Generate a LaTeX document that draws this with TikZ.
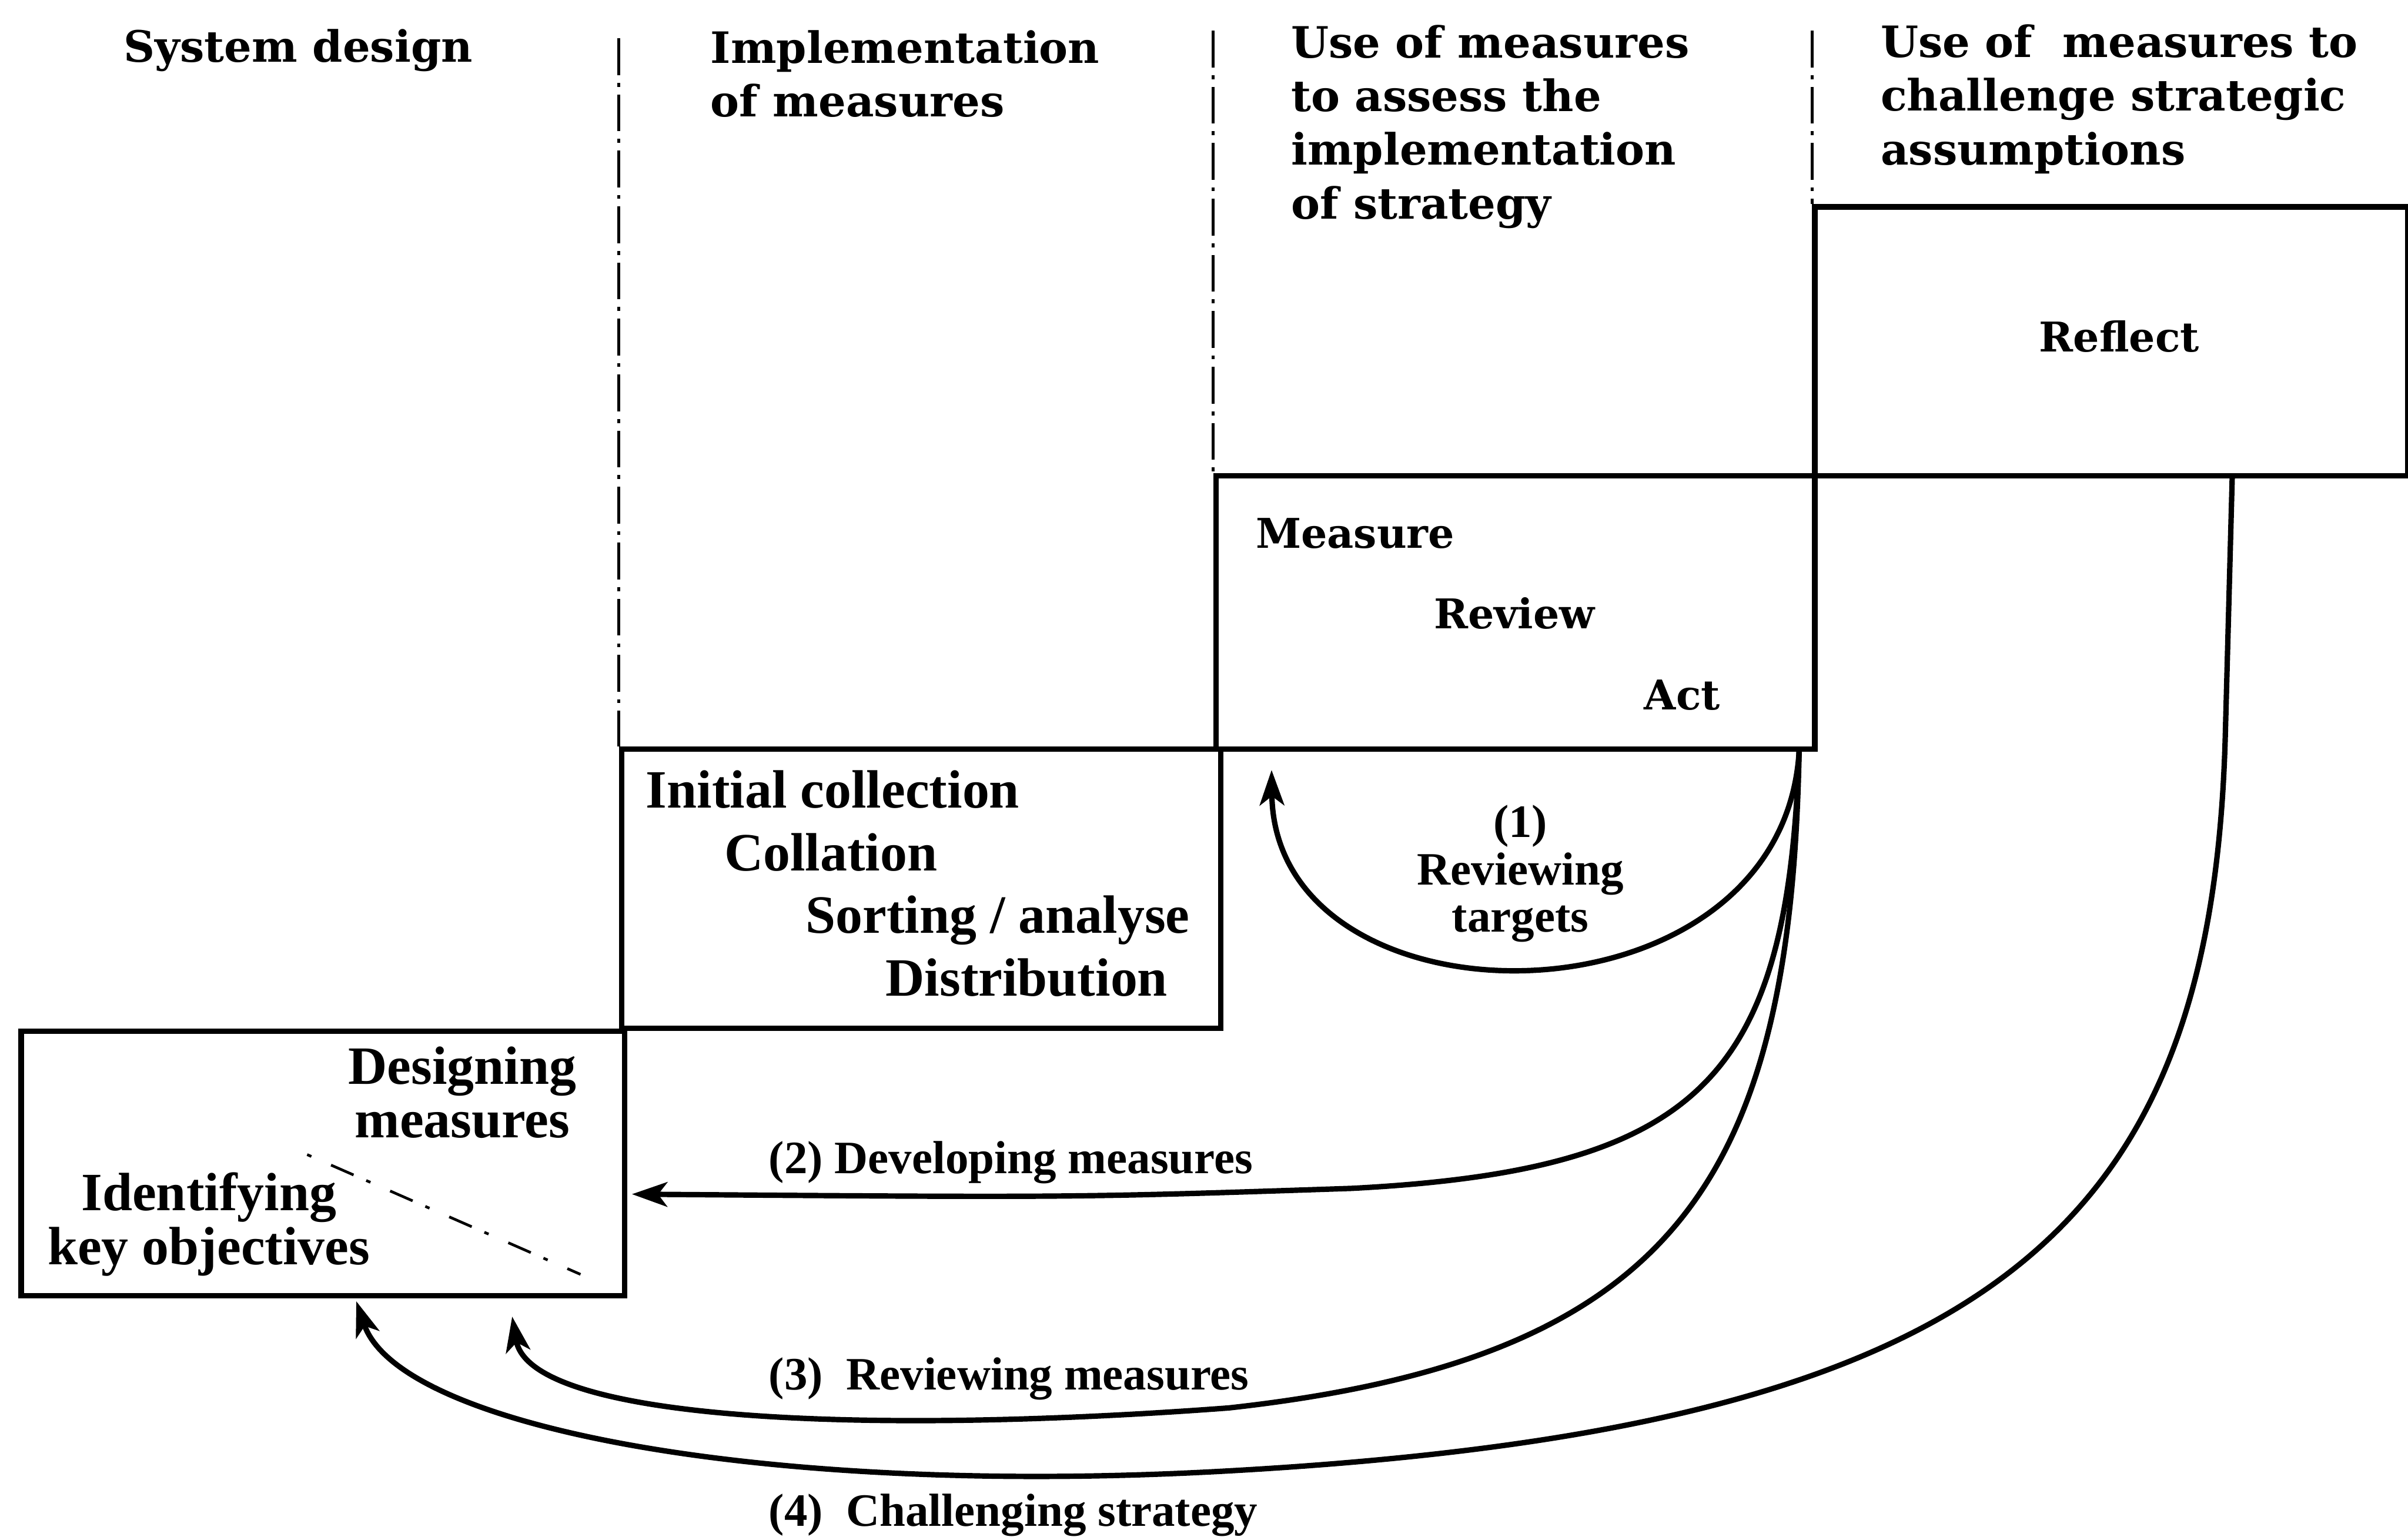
\documentclass[tikz,border=0pt]{standalone}
\usepackage{fontspec}
\setmainfont{Liberation Serif}
\newfontfamily\headfont{DejaVu Serif}
\usetikzlibrary{arrows.meta}

\tikzset{
  stagebox/.style={draw, line width=1pt, rectangle, inner sep=0pt, anchor=north west},
  divider/.style={line width=0.5pt, dash pattern=on 2.4mm off 0.5mm on 0.25mm off 0.5mm},
  flow/.style={line width=1pt, -{Stealth[length=2.3mm,width=1.6mm,inset=0.6mm]}},
  head/.style={inner sep=0pt, font=\headfont\bfseries\fontsize{8}{9.96}\selectfont},
  boxtext/.style={inner sep=0pt, font=\bfseries\fontsize{10}{9.96}\selectfont},
  lab/.style={inner sep=0pt, font=\bfseries\fontsize{8.6}{8.8}\selectfont},
  diag/.style={line width=0.5pt, dash pattern=on 0.3mm off 1.4mm on 1.6mm off 0.9mm}
}

\begin{document}
\begin{tikzpicture}[x=0.1mm, y=-0.1mm]
  \useasboundingbox (0,0) rectangle (1568,1001);

  % the four stage boxes, stepping up from left to right
  \node[stagebox, minimum width=39.3mm, minimum height=17.2mm] (design)  at (12,670)   {};
  \node[stagebox, minimum width=39mm,   minimum height=18.2mm] (initial) at (403,486)  {};
  \node[stagebox, minimum width=39mm,   minimum height=17.8mm] (measure) at (790,308)  {};
  \node[stagebox, minimum width=38.6mm, minimum height=17.5mm] (reflect) at (1180,133) {};

  % column dividers
  \coordinate (d1) at (403,25);
  \coordinate (d2) at (790,20);
  \coordinate (d3) at (1180,20);
  \draw[divider] (d1) -- (initial.north west);
  \draw[divider] (d2) -- (measure.north west);
  \draw[divider] (d3) -- (reflect.north west);

  % column headings
  \node[head, anchor=west] (h1) at (80,33) {System design};
  \node[head, anchor=west, align=left] (h2) at (462,48) {Implementation\\of measures};
  \node[head, anchor=west, align=left] (h3) at (840,82.5) {Use of measures\\to assess the\\implementation\\of strategy};
  \node[head, anchor=west, align=left] (h4) at (1224,64.5) {Use of~ measures to\\challenge strategic\\assumptions};

  % box contents
  \node[boxtext, align=center] (dm) at (301,711.5) {Designing\\measures};
  \node[boxtext, align=center] (ik) at (136,797.5) {Identifying\\key objectives};
  \coordinate (dg1) at (200,752);
  \coordinate (dg2) at (378,830);
  \draw[diag] (dg1) -- (dg2);

  \node[boxtext, anchor=west, align=left, font=\bfseries\fontsize{10}{11.6}\selectfont] (steps) at (420,575.5)
    {Initial collection\\\hspace*{5.1mm}Collation\\\hspace*{10.4mm}Sorting / analyse\\\hspace*{15.6mm}Distribution};

  \node[head, anchor=west, align=left, font=\headfont\bfseries\fontsize{7.6}{15}\selectfont] (mra) at (817,400)
    {Measure\\\hspace*{11.6mm}Review\\\hspace*{25.3mm}Act};

  \node[head, font=\headfont\bfseries\fontsize{7.6}{9.96}\selectfont] (refl) at (1380,219) {Reflect};

  % feedback loops
  \coordinate (s123) at ([xshift=-1.2mm]measure.south east);
  \coordinate (s4)   at ([xshift=-11.6mm]reflect.south east);
  \coordinate (t1)   at ([xshift=3.8mm,yshift=-1.2mm]measure.south west);
  \coordinate (t2)   at ([xshift=0.3mm,yshift=-2mm]design.east);
  \coordinate (t3)   at ([xshift=-7.5mm,yshift=-1.2mm]design.south east);
  \coordinate (t4)   at ([xshift=22mm,yshift=-0.2mm]design.south west);

  \draw[flow] (s123) .. controls (1160,675) and (830,675) .. (t1);
  \draw[flow] (s123) .. controls (1164,700) and (1110,762) .. (880,774)
                     .. controls (700,780) .. (t2);
  \draw[flow] (s123) .. controls (1166,770) and (1090,885) .. (800,917)
                     .. controls (560,935) and (345,925) .. (t3);
  \draw[flow] (s4) -- (1449,480) .. controls (1440,800) and (1300,930) .. (800,958)
                   .. controls (500,975) and (260,930) .. (t4);

  % loop labels
  \node[lab, align=center] (l1) at (990,569) {(1)\\Reviewing\\targets};
  \node[lab, anchor=west] (l2) at (500,757) {(2) Developing measures};
  \node[lab, anchor=west] (l3) at (500,898) {(3)\enspace Reviewing measures};
  \node[lab, anchor=west] (l4) at (500,987) {(4)\enspace Challenging strategy};
\end{tikzpicture}
\end{document}
